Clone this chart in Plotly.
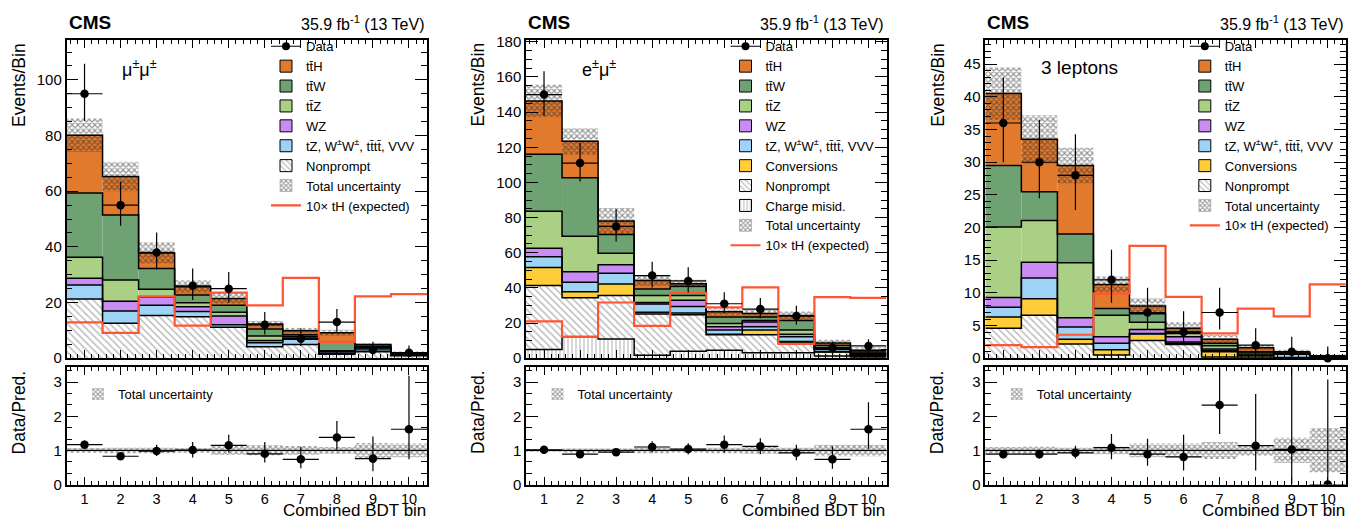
import plotly.graph_objects as go

W, H = 1353, 529
FONT = "Liberation Sans, Arial, Helvetica, sans-serif"

# ---------------- data ----------------
bins = [1, 2, 3, 4, 5, 6, 7, 8, 9, 10]
xtick_text = [str(b) for b in bins]

# mu+-mu+- channel (per-process yields)
mm_nonprompt = [21.3, 12.6, 15.4, 14.9, 11.1, 4.1, 4.9, 1.4, 2.3, 0.9]
mm_other     = [5.0, 4.4, 3.6, 1.9, 0.9, 1.5, 1.9, 0.4, 1.4, 0.3]
mm_wz        = [2.4, 3.5, 3.0, 1.7, 3.2, 0.8, 0.5, 0.5, 0.1, 0.1]
mm_ttz       = [7.6, 7.6, 2.8, 1.4, 1.3, 1.6, 0.5, 0.4, 0.1, 0.1]
mm_ttw       = [23.1, 23.4, 7.4, 2.8, 2.5, 2.5, 0.6, 3.2, 0.4, 0.4]
mm_tth       = [20.7, 13.8, 5.6, 3.0, 2.5, 1.8, 1.5, 3.3, 0.6, 0.2]
mm_unc       = [6.0, 5.3, 3.8, 2.4, 2.0, 1.2, 1.0, 1.0, 0.6, 0.4]
mm_data      = [95, 55, 38, 26, 25, 12, 7, 13, 3, 2]
mm_data_lo   = [9.7, 7.4, 6.1, 5.1, 5.0, 3.5, 2.6, 3.6, 1.6, 1.3]
mm_data_hi   = [10.8, 8.5, 7.2, 6.2, 6.0, 4.6, 3.8, 4.7, 2.9, 2.6]
mm_th10      = [12.9, 9.1, 22.2, 11.7, 23.6, 19.0, 28.9, 5.9, 22.2, 23.0]
mm_ratio     = [1.17, 0.83, 0.98, 1.01, 1.15, 0.90, 0.74, 1.38, 0.76, 1.62]
mm_ratio_lo  = [0.10, 0.10, 0.14, 0.22, 0.21, 0.25, 0.26, 0.40, 0.37, 0.88]
mm_ratio_hi  = [0.12, 0.12, 0.19, 0.24, 0.31, 0.35, 0.37, 0.48, 0.65, 1.57]
mm_ratio_unc = [0.07, 0.08, 0.08, 0.07, 0.13, 0.15, 0.13, 0.10, 0.22, 0.20]

# e+-mu+- channel
em_charge    = [5.0, 12.3, 10.9, 1.7, 4.0, 4.6, 3.1, 3.1, 1.3, 0.7]
em_nonprompt = [36.4, 22.1, 24.8, 23.5, 20.7, 8.7, 10.2, 5.6, 2.2, 0.6]
em_conv      = [10.2, 3.4, 6.5, 1.0, 1.1, 0.3, 2.7, 0.8, 0.2, 0.1]
em_other     = [6.2, 5.5, 6.1, 4.6, 3.7, 2.4, 1.9, 2.8, 1.3, 0.8]
em_wz        = [4.8, 5.9, 4.9, 0.9, 3.5, 1.9, 2.7, 1.3, 0.3, 0.2]
em_ttz       = [21.0, 20.2, 6.5, 4.0, 2.7, 1.8, 0.9, 2.4, 0.5, 0.3]
em_ttw       = [32.4, 33.2, 10.7, 3.7, 5.2, 3.7, 1.9, 5.5, 1.4, 0.8]
em_tth       = [30.3, 20.8, 7.7, 4.8, 1.5, 3.1, 2.1, 2.8, 1.5, 1.0]
em_unc       = [9.2, 7.5, 7.4, 3.0, 2.3, 2.3, 2.5, 2.3, 1.8, 1.8]
em_data      = [150, 111, 75, 47, 44, 31, 28, 24, 6, 7]
em_data_lo   = [12.2, 10.5, 8.6, 6.8, 6.6, 5.5, 5.3, 4.9, 2.4, 2.6]
em_data_hi   = [13.3, 11.6, 9.7, 7.9, 7.7, 6.6, 6.3, 5.9, 3.6, 3.8]
em_th10      = [21.0, 12.3, 31.7, 18.4, 37.2, 28.9, 40.3, 8.1, 34.8, 34.4]
em_ratio     = [1.02, 0.89, 0.95, 1.10, 1.04, 1.17, 1.12, 0.93, 0.74, 1.62]
em_ratio_lo  = [0.08, 0.08, 0.10, 0.16, 0.16, 0.24, 0.23, 0.22, 0.28, 0.57]
em_ratio_hi  = [0.09, 0.09, 0.11, 0.17, 0.17, 0.27, 0.24, 0.24, 0.38, 0.79]
em_ratio_unc = [0.04, 0.06, 0.06, 0.08, 0.06, 0.08, 0.10, 0.08, 0.17, 0.17]

# 3 lepton channel
l3_nonprompt = [4.6, 6.6, 2.2, 0.5, 2.7, 2.1, 0.2, 0.05, 0.05, 0.02]
l3_conv      = [1.7, 2.5, 0.7, 0.8, 1.0, 0.2, 0.8, 0.3, 0.05, 0.03]
l3_other     = [1.5, 3.2, 1.9, 1.0, 0.1, 0.2, 0.2, 0.1, 0.5, 0.1]
l3_wz        = [1.5, 2.4, 1.4, 1.0, 0.6, 0.8, 0.2, 0.05, 0.02, 0.02]
l3_ttz       = [10.8, 6.4, 8.4, 3.3, 1.1, 0.5, 0.5, 0.3, 0.08, 0.05]
l3_ttw       = [9.4, 4.4, 4.4, 1.0, 1.3, 0.2, 0.4, 0.2, 0.05, 0.05]
l3_tth       = [11.0, 8.0, 10.5, 3.7, 1.2, 0.6, 0.6, 0.6, 0.2, 0.13]
l3_unc       = [4.0, 3.7, 2.7, 1.2, 1.2, 0.9, 0.7, 0.4, 0.35, 0.25]
l3_data      = [36, 30, 28, 12, 7, 4, 7, 2, 1, 0]
l3_data_lo   = [6.0, 5.5, 5.3, 3.5, 2.6, 1.9, 2.6, 1.3, 0.8, 0.0]
l3_data_hi   = [7.0, 6.5, 6.3, 4.6, 3.8, 3.2, 3.8, 2.6, 2.3, 1.8]
l3_th10      = [2.0, 1.7, 3.6, 9.9, 17.2, 9.4, 3.8, 7.6, 6.4, 11.3]
l3_ratio     = [0.89, 0.89, 0.93, 1.08, 0.89, 0.81, 2.33, 1.14, 1.03, 0.0]
l3_ratio_lo  = [0.12, 0.13, 0.17, 0.34, 0.34, 0.40, 0.85, 0.73, 1.03, 0.0]
l3_ratio_hi  = [0.12, 0.13, 0.21, 0.40, 0.45, 0.65, 1.20, 1.51, 2.40, 3.08]
l3_ratio_unc = [0.10, 0.11, 0.08, 0.11, 0.20, 0.20, 0.25, 0.16, 0.37, 0.65]

# ---------------- styles ----------------
C_TTH, C_TTW, C_TTZ = "#E27A2E", "#6FA273", "#AAD086"
C_WZ, C_OTH, C_CONV = "#C88CF3", "#9DD4F5", "#FFCD3A"
C_TH = "#FF5533"

STYLE = {
    "tth": dict(label="tt\u0304H", color=C_TTH),
    "ttw": dict(label="tt\u0304W", color=C_TTW),
    "ttz": dict(label="tt\u0304Z", color=C_TTZ),
    "wz": dict(label="WZ", color=C_WZ),
    "other": dict(label="tZ, W<sup>±</sup>W<sup>±</sup>, tt\u0304tt\u0304, VVV", color=C_OTH),
    "conv": dict(label="Conversions", color=C_CONV),
    "nonprompt": dict(label="Nonprompt", color="white",
                      pattern=dict(shape="\\", fgcolor="#7a7a7a", bgcolor="white", size=5, solidity=0.3)),
    "charge": dict(label="Charge misid.", color="white",
                   pattern=dict(shape="|", fgcolor="#7a7a7a", bgcolor="white", size=4, solidity=0.3)),
}
LEGEND_ORDER = ["tth", "ttw", "ttz", "wz", "other", "conv", "nonprompt", "charge"]
UNC_PATTERN = dict(shape="x", fgcolor="#2a2a2a", bgcolor="rgba(0,0,0,0)", size=4, solidity=0.5)

panels = [
    dict(label="μ<sup>±</sup>μ<sup>±</sup>", label_size=18, label_y=63, ymax=114.3, ydtick=20, yminor=5,
         stack=[("nonprompt", mm_nonprompt), ("other", mm_other), ("wz", mm_wz),
                ("ttz", mm_ttz), ("ttw", mm_ttw), ("tth", mm_tth)],
         unc=mm_unc, data=mm_data, lo=mm_data_lo, hi=mm_data_hi, th=mm_th10,
         ratio=mm_ratio, rlo=mm_ratio_lo, rhi=mm_ratio_hi, runc=mm_ratio_unc),
    dict(label="e<sup>±</sup>μ<sup>±</sup>", label_size=18, label_y=63, ymax=181, ydtick=20, yminor=5,
         stack=[("charge", em_charge), ("nonprompt", em_nonprompt), ("conv", em_conv),
                ("other", em_other), ("wz", em_wz), ("ttz", em_ttz), ("ttw", em_ttw), ("tth", em_tth)],
         unc=em_unc, data=em_data, lo=em_data_lo, hi=em_data_hi, th=em_th10,
         ratio=em_ratio, rlo=em_ratio_lo, rhi=em_ratio_hi, runc=em_ratio_unc),
    dict(label="3 leptons", label_size=19, label_y=62, ymax=48.7, ydtick=5, yminor=1,
         stack=[("nonprompt", l3_nonprompt), ("conv", l3_conv), ("other", l3_other),
                ("wz", l3_wz), ("ttz", l3_ttz), ("ttw", l3_ttw), ("tth", l3_tth)],
         unc=l3_unc, data=l3_data, lo=l3_data_lo, hi=l3_data_hi, th=l3_th10,
         ratio=l3_ratio, rlo=l3_ratio_lo, rhi=l3_ratio_hi, runc=l3_ratio_unc),
]

# ---------------- geometry (pixels) ----------------
PANEL_LEFT = [66.5, 526.0, 985.3]
PANEL_W = 360.5
MAIN_TOP, MAIN_BOT = 34.0, 361.5
RAT_TOP, RAT_BOT = 371.0, 491.5
RATIO_MAX = 3.43


def fx(px):
    return px / W


def fy(py):
    return 1 - py / H


edges = [b - 0.5 for b in bins] + [bins[-1] + 0.5]

fig = go.Figure()
layout = dict(width=W, height=H, margin=dict(l=0, r=0, t=0, b=0, pad=0),
              paper_bgcolor="white", plot_bgcolor="white", barmode="overlay",
              font=dict(family=FONT, color="black"), annotations=[], showlegend=True)

axis_common = dict(showline=True, linecolor="black", linewidth=1.5, mirror="allticks",
                   ticks="inside", tickcolor="black", tickwidth=1, showgrid=False,
                   zeroline=False, tickfont=dict(family=FONT, size=15, color="black"))

for i, p in enumerate(panels):
    nm, nr = 2 * i + 1, 2 * i + 2
    xm = "x" if nm == 1 else f"x{nm}"
    ym = "y" if nm == 1 else f"y{nm}"
    xr, yr = f"x{nr}", f"y{nr}"
    leg_main = "legend" if i == 0 else f"legend{i + 1}"
    leg_rat = f"legend{i + 4}"
    left = PANEL_LEFT[i]
    right = left + PANEL_W

    # stacked histograms
    base = [0.0] * len(bins)
    levels = []
    for key, vals in p["stack"]:
        st = STYLE[key]
        mk = dict(color=st["color"], line=dict(width=0))
        if "pattern" in st:
            mk["pattern"] = st["pattern"]
        fig.add_trace(go.Bar(x=bins, y=vals, base=list(base), width=1, marker=mk,
                             xaxis=xm, yaxis=ym, showlegend=False, hoverinfo="skip"))
        base = [b + v for b, v in zip(base, vals)]
        levels.append(list(base))
    for lev in levels:
        fig.add_trace(go.Scatter(x=edges, y=lev + [lev[-1]], mode="lines",
                                 line=dict(color="black", width=1.5, shape="hv"),
                                 xaxis=xm, yaxis=ym, showlegend=False, hoverinfo="skip"))
    total = base

    # total uncertainty band
    fig.add_trace(go.Bar(x=bins, y=[2 * u for u in p["unc"]],
                         base=[t - u for t, u in zip(total, p["unc"])], width=1,
                         marker=dict(color="rgba(0,0,0,0)", line=dict(width=0), pattern=UNC_PATTERN),
                         xaxis=xm, yaxis=ym, showlegend=False, hoverinfo="skip"))

    # 10x tH line
    fig.add_trace(go.Scatter(x=edges, y=p["th"] + [p["th"][-1]], mode="lines",
                             line=dict(color=C_TH, width=2.2, shape="hv"),
                             xaxis=xm, yaxis=ym, showlegend=False, hoverinfo="skip"))

    # data
    fig.add_trace(go.Scatter(x=bins, y=p["data"], mode="markers",
                             marker=dict(color="black", size=8.5),
                             error_y=dict(type="data", symmetric=False, array=p["hi"], arrayminus=p["lo"],
                                          color="black", thickness=1.2, width=0),
                             error_x=dict(type="constant", value=0.5, color="black", thickness=1.2, width=0),
                             xaxis=xm, yaxis=ym, showlegend=False, hoverinfo="skip", cliponaxis=False))

    # legend proxies
    rank = 1
    fig.add_trace(go.Scatter(x=[None], y=[None], mode="lines+markers", name="Data",
                             marker=dict(color="black", size=8), line=dict(color="black", width=1.2),
                             xaxis=xm, yaxis=ym, legend=leg_main, legendrank=rank))
    present = [k for k, _ in p["stack"]]
    for key in LEGEND_ORDER:
        if key not in present:
            continue
        rank += 1
        st = STYLE[key]
        mk = dict(color=st["color"], line=dict(color="black", width=1))
        if "pattern" in st:
            mk["pattern"] = st["pattern"]
        fig.add_trace(go.Bar(x=[None], y=[None], name=st["label"], marker=mk,
                             xaxis=xm, yaxis=ym, legend=leg_main, legendrank=rank))
    rank += 1
    fig.add_trace(go.Bar(x=[None], y=[None], name="Total uncertainty",
                         marker=dict(color="rgba(0,0,0,0)", line=dict(color="#888888", width=0.5),
                                     pattern=UNC_PATTERN),
                         xaxis=xm, yaxis=ym, legend=leg_main, legendrank=rank))
    rank += 1
    fig.add_trace(go.Scatter(x=[None], y=[None], mode="lines", name="10× tH (expected)",
                             line=dict(color=C_TH, width=2.2),
                             xaxis=xm, yaxis=ym, legend=leg_main, legendrank=rank))

    # ratio panel
    fig.add_trace(go.Bar(x=bins, y=[2 * u for u in p["runc"]],
                         base=[1 - u for u in p["runc"]], width=1, name="Total uncertainty",
                         marker=dict(color="rgba(0,0,0,0)", line=dict(width=0), pattern=UNC_PATTERN),
                         xaxis=xr, yaxis=yr, legend=leg_rat, showlegend=True, hoverinfo="skip"))
    fig.add_trace(go.Scatter(x=[edges[0], edges[-1]], y=[1, 1], mode="lines",
                             line=dict(color="black", width=1.2),
                             xaxis=xr, yaxis=yr, showlegend=False, hoverinfo="skip"))
    fig.add_trace(go.Scatter(x=bins, y=p["ratio"], mode="markers",
                             marker=dict(color="black", size=8.5),
                             error_y=dict(type="data", symmetric=False, array=p["rhi"], arrayminus=p["rlo"],
                                          color="black", thickness=1.2, width=0),
                             error_x=dict(type="constant", value=0.5, color="black", thickness=1.2, width=0),
                             xaxis=xr, yaxis=yr, showlegend=False, hoverinfo="skip"))

    # axes
    xdom = [fx(left), fx(right)]
    layout["xaxis" if nm == 1 else f"xaxis{nm}"] = dict(
        axis_common, domain=xdom, range=[edges[0], edges[-1]], anchor=ym,
        tickmode="array", tickvals=bins, showticklabels=False, ticklen=8,
        minor=dict(ticks="inside", dtick=0.2, tick0=0, ticklen=4, tickcolor="black", showgrid=False))
    layout["yaxis" if nm == 1 else f"yaxis{nm}"] = dict(
        axis_common, domain=[fy(MAIN_BOT), fy(MAIN_TOP)], range=[0, p["ymax"]], anchor=xm,
        dtick=p["ydtick"], tick0=0, ticklen=12,
        minor=dict(ticks="inside", dtick=p["yminor"], tick0=0, ticklen=6, tickcolor="black", showgrid=False))
    layout[f"xaxis{nr}"] = dict(
        axis_common, domain=xdom, range=[edges[0], edges[-1]], anchor=yr,
        tickmode="array", tickvals=bins, ticktext=xtick_text, ticklen=8, ticklabelstandoff=0,
        tickfont=dict(family=FONT, size=14.5, color="black"),
        minor=dict(ticks="inside", dtick=0.2, tick0=0, ticklen=4, tickcolor="black", showgrid=False))
    layout[f"yaxis{nr}"] = dict(
        axis_common, domain=[fy(RAT_BOT), fy(RAT_TOP)], range=[0, RATIO_MAX], anchor=xr,
        dtick=1, tick0=0, ticklen=12,
        minor=dict(ticks="inside", dtick=1 / 3, tick0=0, ticklen=6, tickcolor="black", showgrid=False))

    # legends
    layout[leg_main] = dict(x=fx(right - 121 - 40), y=fy(25), xanchor="left", yanchor="top",
                            xref="paper", yref="paper", bgcolor="rgba(0,0,0,0)", borderwidth=0,
                            traceorder="normal", font=dict(family=FONT, size=13, color="black"))
    layout[leg_rat] = dict(x=fx(left + 51.5 - 40), y=fy(383), xanchor="left", yanchor="top",
                           xref="paper", yref="paper", bgcolor="rgba(0,0,0,0)", borderwidth=0,
                           font=dict(family=FONT, size=13, color="black"))

    # texts
    ann = layout["annotations"]
    ann.append(dict(text="<b>CMS</b>", x=fx(left), y=fy(16), xref="paper", yref="paper",
                    xanchor="left", yanchor="middle", showarrow=False,
                    font=dict(family=FONT, size=19, color="black")))
    ann.append(dict(text="35.9 fb<sup>-1</sup> (13 TeV)", x=fx(right), y=fy(16), xref="paper", yref="paper",
                    xanchor="right", yanchor="middle", showarrow=False,
                    font=dict(family=FONT, size=16, color="black")))
    ann.append(dict(text=p["label"], x=fx(left + 53.5), y=fy(p["label_y"]), xref="paper", yref="paper",
                    xanchor="left", yanchor="middle", showarrow=False,
                    font=dict(family=FONT, size=p["label_size"], color="black")))
    ann.append(dict(text="Events/Bin", x=fx(left - 47.5), y=fy(MAIN_TOP + 1), xref="paper", yref="paper",
                    xanchor="center", yanchor="top", textangle=-90, showarrow=False,
                    font=dict(family=FONT, size=17.5, color="black")))
    ann.append(dict(text="Data/Pred.", x=fx(left - 47.5), y=fy(RAT_TOP + 1), xref="paper", yref="paper",
                    xanchor="center", yanchor="top", textangle=-90, showarrow=False,
                    font=dict(family=FONT, size=17.5, color="black")))
    ann.append(dict(text="Combined BDT bin", x=fx(right), y=0, xref="paper", yref="paper",
                    xanchor="right", yanchor="bottom", showarrow=False, borderpad=0,
                    font=dict(family=FONT, size=17, color="black")))

fig.update_layout(**layout)
fig.write_html("out.html", config={"displayModeBar": False},
               post_script="document.body.style.margin='0';document.body.style.overflow='hidden';")
